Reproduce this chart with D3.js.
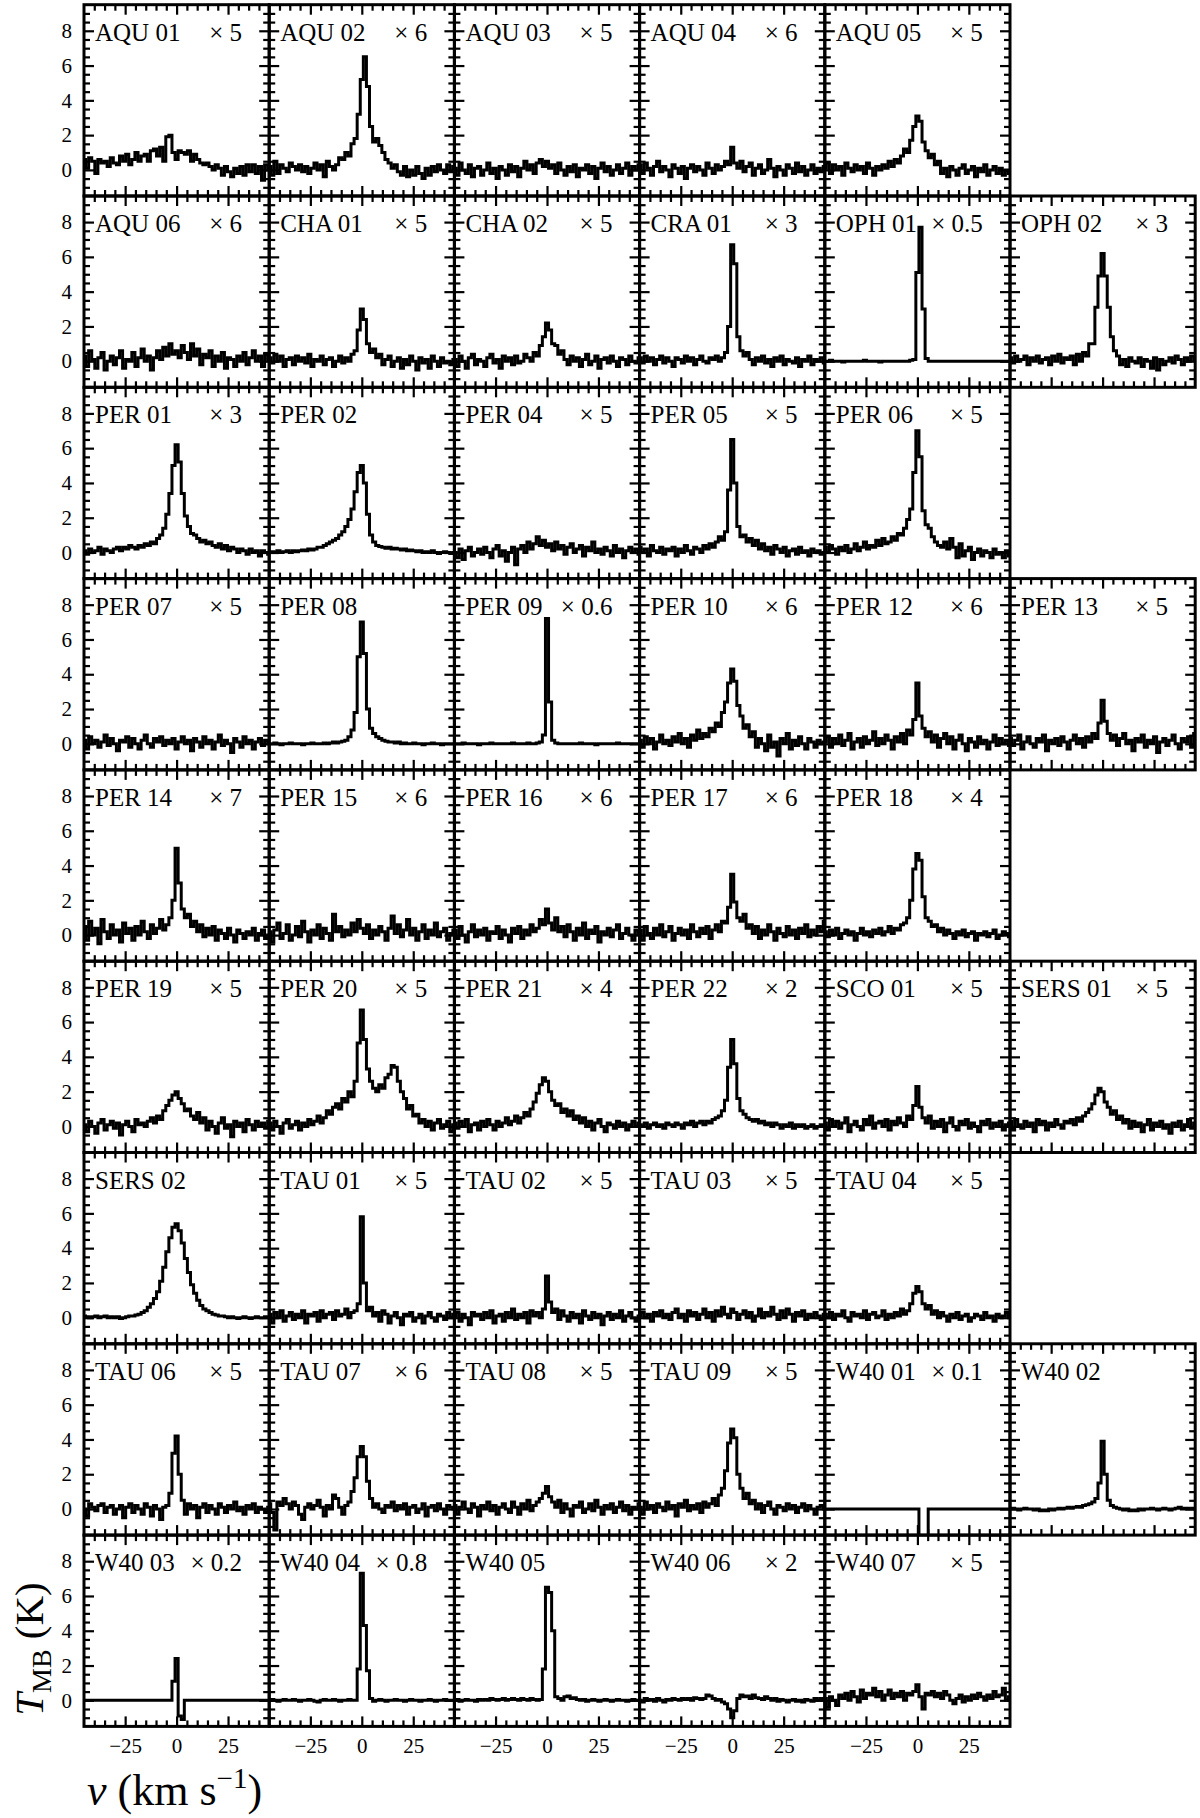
<!DOCTYPE html>
<html>
<head>
<meta charset="utf-8">
<script src="https://cdn.jsdelivr.net/npm/d3@7"></script>
<style>
body { margin: 0; background: #fff; }
svg text { font-family: "Liberation Serif", "Times New Roman", "Tinos", "DejaVu Serif", "Noto Serif", serif !important; fill: #000; }
</style>
</head>
<body>
<div id="chart"></div>
<script>
// channel grid of every spectrum (km/s)
let velStart = -45;
let velStep = 1.5;

let rowSizes = [5, 6, 5, 6, 5, 6, 5, 6, 5];
let names = ['AQU 01', 'AQU 02', 'AQU 03', 'AQU 04', 'AQU 05',
    'AQU 06', 'CHA 01', 'CHA 02', 'CRA 01', 'OPH 01', 'OPH 02',
    'PER 01', 'PER 02', 'PER 04', 'PER 05', 'PER 06',
    'PER 07', 'PER 08', 'PER 09', 'PER 10', 'PER 12', 'PER 13',
    'PER 14', 'PER 15', 'PER 16', 'PER 17', 'PER 18',
    'PER 19', 'PER 20', 'PER 21', 'PER 22', 'SCO 01', 'SERS 01',
    'SERS 02', 'TAU 01', 'TAU 02', 'TAU 03', 'TAU 04',
    'TAU 06', 'TAU 07', 'TAU 08', 'TAU 09', 'W40 01', 'W40 02',
    'W40 03', 'W40 04', 'W40 05', 'W40 06', 'W40 07'];
let factors = ['5', '6', '5', '6', '5',
    '6', '5', '5', '3', '0.5', '3',
    '3', '', '5', '5', '5',
    '5', '', '0.6', '6', '6', '5',
    '7', '6', '6', '6', '4',
    '5', '5', '4', '2', '5', '5',
    '', '5', '5', '5', '5',
    '5', '6', '5', '5', '0.1', '',
    '0.2', '0.8', '', '2', '5'];

let xMajor = [-25, 0, 25];
let xMinor = [-40, -35, -30, -20, -15, -10, -5, 5, 10, 15, 20, 30, 35, 40];
let yMajor = [0, 2, 4, 6, 8];
let yMinor = [-1, -0.5, 0.5, 1, 1.5, 2.5, 3, 3.5, 4.5, 5, 5.5, 6.5, 7, 7.5, 8.5, 9];

// spectra (T_MB in K, already multiplied by the factor), 61 channels each
let aqu01 = [0.6, 0.1, 0.7, 0.5, -0.2, 0.6, 0.4, 0.5, 0.2, 0.7,
    0.4, 0.3, 0.8, 0.5, 0.9, 0.3, 0.6, 1.0, 0.5, 0.8,
    0.9, 0.5, 1.1, 1.2, 0.8, 1.3, 0.5, 1.9, 2.0, 1.0,
    0.6, 1.1, 1.0, 0.9, 1.1, 0.5, 0.9, 0.6, 0.4, 0.3,
    0.4, 0.2, 0.0, 0.3, 0.1, -0.3, 0.2, -0.1, -0.4, 0.1,
    -0.2, 0.2, -0.3, 0.3, -0.1, 0.3, -0.2, 0.2, -0.6, 0.3,
    0.0];
let aqu02 = [0.2, -0.3, 0.5, -0.2, 0.3, 0.1, -0.1, 0.4, 0.2, 0.0,
    0.3, -0.1, 0.2, -0.2, 0.1, 0.4, 0.0, 0.3, -0.4, 0.5,
    0.2, 0.0, 0.3, 0.7, 0.6, 1.0, 0.8, 1.5, 1.8, 3.2,
    5.2, 6.5, 4.8, 2.5, 1.6, 1.8, 1.4, 1.0, 0.6, 0.4,
    0.1, 0.3, -0.1, -0.3, 0.2, -0.4, 0.0, -0.3, 0.2, -0.2,
    -0.5, 0.1, -0.3, 0.2, -0.1, 0.3, 0.0, -0.2, 0.3, -0.1,
    0.2];
let aqu03 = [0.1, -0.3, 0.4, 0.0, -0.2, 0.3, -0.4, 0.1, 0.2, -0.3,
    0.0, 0.4, -0.2, 0.1, -0.5, 0.2, 0.0, -0.3, 0.3, -0.1,
    0.2, -0.4, 0.1, 0.5, 0.0, 0.3, -0.2, 0.4, 0.6, 0.2,
    0.5, 0.1, 0.3, -0.2, 0.4, 0.0, -0.3, 0.2, -0.1, 0.3,
    -0.4, 0.1, 0.0, 0.3, -0.2, 0.2, -0.5, 0.1, 0.4, -0.1,
    0.2, -0.3, 0.0, 0.3, -0.2, 0.1, 0.4, -0.3, 0.2, 0.0,
    0.3];
let aqu04 = [0.3, -0.2, 0.4, 0.1, -0.3, 0.2, 0.5, -0.1, 0.2, 0.0,
    -0.4, 0.3, 0.1, -0.2, 0.2, -0.5, 0.1, 0.3, -0.1, 0.2,
    0.0, -0.3, 0.4, 0.1, -0.2, 0.3, 0.0, 0.2, 0.5, 0.3,
    1.3, 0.4, 0.1, 0.5, -0.1, 0.2, 0.4, -0.3, 0.1, 0.3,
    -0.2, 0.0, 0.6, 0.1, -0.4, 0.2, 0.0, -0.3, 0.3, 0.1,
    -0.2, 0.4, -0.1, 0.2, -0.3, 0.0, 0.3, -0.2, 0.1, -0.1,
    0.2];
let aqu05 = [0.1, 0.4, -0.2, 0.3, 0.0, 0.2, -0.3, 0.4, 0.1, -0.1,
    0.3, 0.0, 0.2, -0.2, 0.4, 0.1, -0.3, 0.2, 0.0, 0.3,
    0.1, 0.5, 0.2, 0.6, 0.4, 0.8, 1.2, 1.0, 1.7, 2.5,
    3.1, 2.8, 1.6, 1.1, 0.7, 0.9, 0.3, 0.5, -0.2, 0.1,
    -0.4, 0.2, 0.0, -0.3, 0.1, 0.3, -0.2, 0.0, 0.2, -0.4,
    0.1, -0.1, 0.3, -0.3, 0.0, 0.2, -0.2, 0.1, -0.3, 0.0,
    -0.2];
let aqu06 = [0.3, -0.3, 0.6, 0.1, -0.4, 0.2, 0.5, -0.5, 0.0, 0.3,
    -0.2, 0.2, 0.6, -0.4, 0.1, 0.0, 0.5, -0.3, 0.2, 0.7,
    0.0, 0.3, -0.5, 0.2, 0.6, 0.1, 0.8, 0.3, 1.0, 0.4,
    0.6, 0.2, 0.9, 0.5, 0.1, 1.0, 0.3, 0.7, -0.2, 0.4,
    0.2, 0.6, -0.3, 0.3, 0.0, 0.5, -0.4, 0.2, 0.1, -0.3,
    0.3, 0.0, 0.5, -0.2, 0.2, 0.6, 0.0, 0.3, -0.3, 0.4,
    0.1];
let cha01 = [0.2, -0.1, 0.4, 0.0, 0.3, -0.3, 0.1, 0.2, -0.2, 0.3,
    0.0, 0.2, -0.1, 0.4, -0.3, 0.1, 0.0, 0.3, -0.2, 0.1,
    0.2, -0.3, 0.0, 0.3, -0.1, 0.2, 0.0, 0.4, 0.6, 1.8,
    3.0, 2.4, 1.0, 0.5, 0.7, 0.2, 0.4, -0.2, 0.1, 0.3,
    -0.3, 0.0, 0.2, -0.4, 0.1, -0.2, 0.3, 0.0, -0.5, 0.2,
    -0.1, 0.1, -0.4, 0.3, 0.0, -0.3, 0.2, -0.1, 0.0, -0.2,
    0.1];
let cha02 = [0.1, -0.3, 0.3, 0.0, -0.4, 0.2, 0.4, -0.2, 0.1, 0.0,
    -0.3, 0.2, 0.4, -0.1, 0.1, -0.4, 0.3, 0.0, 0.2, -0.2,
    0.3, -0.1, 0.0, 0.4, 0.2, 0.0, 0.5, 0.3, 0.9, 1.4,
    2.2, 1.8, 1.0, 0.9, 0.4, 0.6, 0.1, -0.2, 0.3, 0.0,
    0.2, -0.3, 0.1, 0.4, -0.2, 0.0, 0.3, -0.4, 0.1, 0.2,
    -0.1, 0.3, 0.0, -0.3, 0.2, 0.1, -0.2, 0.3, 0.0, -0.1,
    0.2];
let cra01 = [0.2, -0.1, 0.3, 0.0, 0.2, -0.2, 0.1, 0.3, -0.1, 0.2,
    0.0, -0.3, 0.2, 0.1, -0.1, 0.3, 0.0, 0.2, -0.2, 0.1,
    0.3, 0.0, -0.1, 0.2, 0.1, 0.3, 0.0, 0.2, 0.5, 2.0,
    6.7, 5.6, 1.4, 0.6, 0.3, 0.5, 0.1, -0.2, 0.2, 0.0,
    0.3, -0.1, 0.1, -0.3, 0.2, 0.0, 0.3, -0.2, 0.1, 0.0,
    -0.1, 0.2, -0.3, 0.1, 0.0, 0.3, -0.2, 0.1, 0.0, 0.2,
    -0.1];
let oph01 = [0.0, 0.0, 0.05, 0.0, 0.0, 0.0, -0.05, 0.0, 0.0, 0.0,
    0.0, 0.0, 0.0, 0.05, 0.0, 0.0, 0.0, 0.0, -0.05, 0.0,
    0.0, 0.0, 0.0, 0.0, 0.0, 0.0, 0.0, 0.0, 0.05, 0.1,
    5.1, 7.7, 3.0, 0.15, 0.0, 0.0, 0.0, 0.0, 0.0, 0.0,
    0.0, 0.0, 0.0, 0.0, 0.0, 0.0, 0.0, 0.0, 0.0, 0.0,
    0.0, 0.0, 0.0, 0.0, 0.0, 0.0, 0.0, 0.0, 0.0, 0.0,
    0.0];
let oph02 = [0.2, -0.1, 0.3, 0.0, 0.1, 0.3, -0.2, 0.2, 0.0, 0.3,
    -0.1, 0.1, 0.2, -0.2, 0.3, 0.0, 0.4, -0.1, 0.2, 0.1,
    0.3, -0.2, 0.4, 0.0, 0.5, 0.3, 1.0, 1.0, 3.1, 4.9,
    6.2, 4.9, 3.1, 1.4, 0.6, 0.3, -0.2, 0.1, -0.3, 0.2,
    0.0, -0.1, 0.2, -0.3, 0.1, 0.0, -0.4, 0.2, -0.5, 0.1,
    -0.2, 0.0, 0.2, -0.1, 0.3, 0.1, -0.2, 0.2, 0.0, 0.3,
    0.1];
let per01 = [0.1, -0.1, 0.2, 0.0, 0.1, 0.3, -0.1, 0.2, 0.1, 0.0,
    0.2, 0.3, 0.1, 0.3, 0.2, 0.4, 0.3, 0.2, 0.4, 0.3,
    0.5, 0.4, 0.6, 0.5, 0.8, 1.0, 1.4, 2.2, 3.4, 5.0,
    6.2, 5.2, 3.4, 2.1, 1.5, 1.1, 1.0, 0.8, 0.6, 0.7,
    0.5, 0.6, 0.4, 0.3, 0.5, 0.2, 0.4, 0.1, 0.3, 0.2,
    0.0, 0.2, 0.1, -0.1, 0.2, 0.0, 0.1, -0.2, 0.1, 0.0,
    -0.1];
let per02 = [0.0, 0.05, 0.0, 0.1, 0.0, 0.05, 0.1, 0.0, 0.1, 0.05,
    0.1, 0.15, 0.1, 0.2, 0.15, 0.2, 0.3, 0.3, 0.4, 0.5,
    0.6, 0.7, 0.8, 1.0, 1.2, 1.5, 1.9, 2.5, 3.5, 4.6,
    5.0, 4.0, 2.2, 1.0, 0.6, 0.4, 0.35, 0.3, 0.25, 0.3,
    0.2, 0.25, 0.2, 0.15, 0.2, 0.1, 0.15, 0.1, 0.05, 0.1,
    0.0, 0.05, 0.0, 0.1, 0.0, -0.05, 0.0, 0.05, 0.0, -0.05,
    0.0];
let per04 = [0.0, -0.3, 0.2, -0.4, 0.1, 0.3, -0.2, 0.0, 0.2, -0.1,
    0.3, 0.0, -0.3, 0.2, 0.4, -0.2, 0.1, -0.5, 0.0, 0.3,
    -0.7, 0.2, 0.4, 0.0, 0.6, 0.2, 0.5, 0.9, 0.4, 0.7,
    0.3, 0.5, 0.1, 0.6, 0.2, 0.4, -0.1, 0.3, 0.5, 0.0,
    0.2, 0.4, -0.2, 0.3, 0.1, 0.6, 0.0, 0.2, -0.1, 0.3,
    0.1, -0.2, 0.4, 0.0, 0.2, -0.3, 0.1, 0.3, 0.0, 0.2,
    -0.1];
let per05 = [0.3, 0.0, 0.2, -0.2, 0.4, 0.1, 0.0, 0.3, -0.1, 0.2,
    0.1, 0.3, -0.2, 0.2, 0.0, 0.4, 0.1, -0.1, 0.3, 0.2,
    0.0, 0.4, 0.2, 0.5, 0.3, 0.6, 0.9, 0.7, 1.2, 3.6,
    6.5, 4.0, 1.5, 0.9, 1.0, 0.6, 0.8, 0.4, 0.7, 0.2,
    0.5, 0.1, 0.3, -0.1, 0.4, 0.2, 0.0, 0.3, -0.2, 0.1,
    0.2, -0.1, 0.3, 0.0, 0.1, -0.2, 0.2, 0.0, 0.1, -0.1,
    0.0];
let per06 = [0.3, 0.0, 0.4, 0.2, -0.1, 0.3, 0.1, 0.4, 0.0, 0.2,
    0.5, 0.1, 0.3, 0.6, 0.2, 0.4, 0.3, 0.7, 0.4, 0.8,
    0.5, 0.6, 0.9, 0.7, 1.1, 1.0, 1.4, 1.9, 2.5, 4.6,
    7.0, 5.5, 2.4, 1.6, 1.4, 0.9, 0.6, 0.4, 0.3, 0.6,
    0.2, 0.8, 0.3, -0.3, 0.5, -0.2, 0.1, 0.3, -0.4, 0.0,
    0.2, -0.2, 0.1, 0.0, -0.3, 0.2, -0.1, 0.0, -0.3, 0.1,
    -0.2];
let per07 = [0.2, -0.3, 0.4, 0.0, 0.2, -0.2, 0.1, 0.5, -0.1, 0.3,
    0.0, -0.4, 0.2, 0.1, 0.4, -0.2, 0.3, 0.0, -0.3, 0.2,
    0.5, 0.0, -0.2, 0.3, 0.1, 0.4, -0.1, 0.2, 0.0, 0.3,
    -0.3, 0.1, 0.4, 0.0, 0.2, -0.4, 0.3, 0.1, -0.2, 0.4,
    0.0, 0.2, -0.3, 0.1, 0.5, -0.1, 0.2, 0.0, -0.5, 0.3,
    0.1, -0.2, 0.4, 0.0, 0.2, -0.3, 0.1, 0.3, -0.1, 0.2,
    0.0];
let per08 = [0.0, 0.0, 0.05, 0.0, -0.05, 0.0, 0.0, 0.05, 0.0, 0.0,
    0.0, -0.05, 0.0, 0.0, 0.05, 0.0, 0.0, 0.0, 0.05, 0.0,
    0.05, 0.1, 0.05, 0.1, 0.15, 0.2, 0.4, 0.8, 1.8, 5.0,
    7.0, 5.2, 2.0, 0.9, 0.6, 0.4, 0.3, 0.2, 0.15, 0.1,
    0.1, 0.05, 0.1, 0.0, 0.05, 0.0, 0.0, 0.05, 0.0, 0.0,
    -0.05, 0.0, 0.0, 0.05, 0.0, 0.0, -0.05, 0.0, 0.0, 0.0,
    0.0];
let per09 = [0.0, 0.0, 0.0, 0.05, 0.0, 0.0, 0.0, 0.0, -0.05, 0.0,
    0.0, 0.0, 0.05, 0.0, 0.0, 0.0, 0.0, 0.0, 0.0, 0.05,
    0.0, 0.0, 0.0, 0.0, 0.05, 0.0, 0.0, 0.05, 0.1, 0.5,
    7.2, 2.4, 0.2, 0.05, 0.0, 0.0, 0.0, 0.0, 0.0, 0.0,
    0.0, 0.05, 0.0, 0.0, 0.0, 0.0, -0.05, 0.0, 0.0, 0.0,
    0.0, 0.0, 0.0, 0.05, 0.0, 0.0, 0.0, 0.0, 0.0, 0.0,
    0.0];
let per10 = [0.2, -0.2, 0.4, 0.0, 0.3, -0.3, 0.1, 0.5, 0.0, 0.2,
    -0.1, 0.4, 0.1, 0.6, 0.0, 0.3, -0.2, 0.5, 0.2, 0.8,
    0.3, 0.6, 0.4, 0.9, 0.7, 1.2, 1.0, 1.8, 2.4, 3.5,
    4.3, 3.6, 2.2, 1.6, 0.9, 1.1, 0.4, 0.7, -0.2, 0.3,
    0.0, -0.4, 0.5, -0.2, 0.1, -0.7, 0.3, 0.0, 0.6, -0.3,
    0.2, -0.1, 0.4, 0.0, -0.3, 0.3, 0.1, -0.2, 0.2, 0.0,
    0.1];
let per12 = [0.1, 0.4, -0.2, 0.3, 0.0, 0.5, -0.1, 0.2, 0.6, -0.3,
    0.1, 0.3, -0.2, 0.4, 0.0, 0.2, 0.7, -0.1, 0.3, 0.0,
    0.5, 0.2, -0.3, 0.4, 0.1, 0.6, 0.0, 0.8, 0.5, 1.4,
    3.5, 1.6, 0.9, 0.4, 0.7, 0.1, 0.5, -0.2, 0.3, 0.6,
    0.0, 0.4, -0.3, 0.2, 0.5, 0.0, -0.4, 0.3, 0.1, -0.2,
    0.4, 0.0, 0.2, -0.3, 0.1, 0.5, -0.1, 0.3, 0.0, 0.2,
    -0.1];
let per13 = [0.3, -0.1, 0.2, 0.5, -0.3, 0.1, 0.4, 0.0, -0.2, 0.3,
    0.1, 0.5, -0.4, 0.2, 0.0, 0.3, -0.1, 0.4, 0.1, -0.3,
    0.2, 0.5, 0.0, 0.3, -0.2, 0.4, 0.1, 0.6, 0.3, 1.2,
    2.5, 1.3, 0.6, 0.2, 0.5, -0.1, 0.3, 0.6, 0.0, 0.2,
    -0.4, 0.3, 0.1, 0.5, -0.2, 0.2, 0.0, 0.4, -0.5, 0.1,
    0.3, -0.1, 0.2, 0.5, 0.0, -0.3, 0.3, 0.1, 0.4, -0.2,
    0.6];
let per14 = [0.5, -0.3, 0.8, 0.0, 0.4, -0.5, 0.9, 0.2, -0.2, 0.6,
    0.0, 0.3, -0.4, 0.7, 0.1, 0.4, -0.3, 0.5, 0.0, 0.8,
    0.2, -0.2, 0.6, 0.1, 0.4, 0.9, 0.3, 0.6, 1.0, 2.0,
    5.0, 3.0, 1.5, 1.0, 1.2, 0.5, 0.8, 0.2, 0.6, -0.1,
    0.4, 0.0, 0.5, -0.3, 0.3, 0.1, -0.2, 0.4, 0.0, -0.4,
    0.3, 0.1, -0.2, 0.2, 0.0, 0.4, -0.3, 0.1, 0.3, -0.2,
    0.0];
let per15 = [0.2, -0.4, 0.3, 0.7, -0.2, 0.1, 0.6, -0.3, 0.0, 0.5,
    -0.1, 0.8, 0.2, -0.4, 0.3, 0.0, 0.6, -0.2, 0.4, 0.1,
    -0.3, 1.2, 0.2, 0.5, -0.1, 0.3, 0.0, 0.7, 0.2, 0.9,
    0.4, 0.1, 0.6, -0.2, 0.3, 0.0, 0.5, 0.2, -0.3, 0.4,
    1.1, 0.1, 0.6, -0.1, 0.3, 0.9, 0.0, 0.4, -0.3, 0.2,
    0.6, -0.2, 0.3, 0.0, 0.7, -0.1, 0.2, 0.4, -0.3, 0.1,
    0.3];
let per16 = [0.3, -0.2, 0.5, 0.0, -0.4, 0.2, 0.6, -0.1, 0.3, 0.0,
    0.4, -0.3, 0.2, 0.1, 0.5, -0.2, 0.3, 0.0, -0.4, 0.4,
    0.1, 0.5, -0.2, 0.3, 0.0, 0.6, 0.2, 0.4, 0.9, 0.6,
    1.5, 0.7, 0.3, 1.0, 0.2, 0.5, -0.1, 0.6, 0.2, -0.3,
    0.4, 0.0, 0.7, -0.2, 0.3, 0.1, 0.5, -0.4, 0.2, 0.0,
    0.4, -0.1, 0.3, 0.6, -0.2, 0.1, 0.4, 0.0, -0.3, 0.3,
    0.1];
let per17 = [0.3, -0.3, 0.5, 0.1, -0.2, 0.4, 0.0, 0.6, -0.1, 0.2,
    0.5, -0.3, 0.1, 0.4, 0.0, 0.3, -0.2, 0.6, 0.2, -0.1,
    0.4, 0.1, 0.5, -0.2, 0.3, 0.6, 0.2, 0.8, 0.7, 1.6,
    3.5, 1.9, 1.0, 0.8, 1.2, 0.4, 0.6, 0.1, 0.5, -0.2,
    0.3, 0.0, 0.6, 0.2, -0.3, 0.4, 0.1, -0.1, 0.5, 0.0,
    0.3, -0.2, 0.4, 0.1, 0.6, -0.1, 0.3, 0.0, 0.5, 0.2,
    0.8];
let per18 = [0.2, -0.1, 0.3, 0.0, 0.4, -0.2, 0.1, 0.3, 0.0, 0.2,
    -0.3, 0.1, 0.4, 0.0, 0.2, -0.1, 0.3, 0.1, 0.4, 0.0,
    0.2, 0.5, 0.1, 0.4, 0.3, 0.6, 0.7, 1.0, 2.0, 3.8,
    4.7, 4.3, 2.2, 1.0, 0.8, 0.5, 0.6, 0.2, 0.4, 0.0,
    0.3, 0.1, -0.2, 0.2, 0.0, 0.3, -0.1, 0.1, 0.2, -0.3,
    0.1, 0.0, 0.2, -0.1, 0.1, 0.3, -0.2, 0.0, 0.2, 0.1,
    -0.1];
let per19 = [0.1, -0.3, 0.3, 0.0, -0.4, 0.2, 0.4, -0.2, 0.1, 0.3,
    -0.1, 0.2, -0.5, 0.1, 0.3, 0.0, -0.3, 0.4, 0.1, 0.2,
    0.0, 0.3, 0.5, 0.2, 0.6, 0.4, 0.9, 1.2, 1.5, 1.8,
    2.0, 1.6, 1.3, 0.9, 1.0, 0.6, 0.4, 0.8, 0.2, 0.5,
    -0.2, 0.3, 0.0, -0.4, 0.2, 0.5, -0.1, 0.1, -0.6, 0.3,
    0.0, 0.2, -0.3, 0.4, 0.1, -0.2, 0.3, 0.0, 0.2, -0.1,
    0.3];
let per20 = [0.2, -0.2, 0.3, 0.0, -0.4, 0.2, 0.4, -0.1, 0.1, 0.3,
    -0.2, 0.2, 0.0, 0.4, 0.1, 0.3, 0.6, 0.2, 0.5, 0.9,
    0.7, 1.1, 1.3, 1.0, 1.6, 1.4, 2.0, 1.7, 2.6, 4.8,
    6.7, 5.0, 3.3, 2.6, 2.2, 2.0, 2.4, 2.2, 2.8, 3.0,
    3.5, 3.4, 2.6, 2.0, 1.6, 1.0, 1.2, 0.6, 0.7, 0.2,
    0.4, 0.0, 0.3, -0.2, 0.2, 0.4, -0.1, 0.1, 0.3, -0.3,
    0.1];
let per21 = [0.2, -0.1, 0.3, 0.0, 0.4, -0.3, 0.1, 0.2, -0.2, 0.3,
    0.0, 0.4, 0.1, -0.2, 0.3, 0.0, 0.2, 0.5, 0.1, 0.3,
    0.6, 0.2, 0.5, 0.8, 0.6, 1.0, 1.4, 1.9, 2.4, 2.8,
    2.6, 2.0, 1.5, 1.2, 1.3, 0.8, 1.0, 0.6, 0.9, 0.4,
    0.6, 0.2, 0.5, 0.0, 0.3, -0.2, 0.2, 0.4, 0.0, -0.3,
    0.2, 0.1, -0.1, 0.3, 0.0, 0.2, -0.2, 0.1, 0.3, 0.0,
    0.2];
let per22 = [0.1, 0.0, 0.2, -0.1, 0.1, 0.2, 0.0, 0.1, -0.1, 0.2,
    0.1, 0.0, 0.2, 0.1, -0.1, 0.2, 0.1, 0.3, 0.0, 0.2,
    0.3, 0.1, 0.3, 0.2, 0.4, 0.5, 0.6, 0.9, 1.5, 3.4,
    5.0, 3.6, 1.6, 0.9, 0.7, 0.5, 0.4, 0.3, 0.4, 0.2,
    0.3, 0.1, 0.2, 0.0, 0.2, 0.1, -0.1, 0.1, 0.0, 0.2,
    -0.1, 0.1, 0.0, 0.1, -0.1, 0.0, 0.1, -0.1, 0.0, 0.1,
    0.0];
let sco01 = [0.2, -0.2, 0.4, 0.0, 0.3, -0.1, 0.2, 0.5, -0.3, 0.1,
    0.3, 0.0, -0.2, 0.4, 0.1, 0.6, -0.1, 0.2, 0.3, 0.0,
    0.4, -0.2, 0.3, 0.1, 0.5, 0.2, 0.0, 0.6, 0.4, 1.2,
    2.3, 1.1, 0.5, 0.2, 0.6, -0.1, 0.3, 0.0, 0.4, -0.3,
    0.2, 0.5, 0.0, -0.2, 0.3, 0.1, 0.4, -0.1, 0.2, 0.0,
    -0.3, 0.3, 0.1, 0.4, -0.1, 0.2, 0.0, 0.3, -0.2, 0.1,
    0.2];
let sers01 = [0.3, -0.2, 0.4, 0.1, -0.1, 0.3, 0.0, 0.2, -0.3, 0.4,
    0.1, 0.3, -0.2, 0.2, 0.0, 0.4, 0.1, -0.1, 0.3, 0.2,
    0.4, 0.1, 0.5, 0.3, 0.6, 0.8, 1.0, 1.3, 1.8, 2.2,
    2.0, 1.4, 1.1, 0.7, 0.9, 0.4, 0.6, 0.2, 0.4, -0.1,
    0.3, 0.0, 0.2, -0.3, 0.1, 0.4, -0.2, 0.2, 0.0, 0.3,
    -0.1, 0.1, -0.4, 0.2, 0.0, 0.3, -0.2, 0.1, 0.4, -0.1,
    0.2];
let sers02 = [0.1, 0.05, 0.0, 0.05, 0.1, 0.0, 0.05, 0.1, 0.0, 0.05,
    0.0, 0.05, -0.05, 0.0, 0.05, 0.1, 0.1, 0.15, 0.2, 0.3,
    0.4, 0.6, 0.8, 1.1, 1.5, 2.1, 2.9, 3.8, 4.6, 5.2,
    5.4, 5.0, 4.3, 3.4, 2.6, 1.9, 1.4, 1.0, 0.7, 0.5,
    0.4, 0.3, 0.2, 0.15, 0.1, 0.1, 0.05, 0.0, 0.05, 0.0,
    -0.05, 0.0, 0.05, 0.0, -0.05, 0.0, 0.05, 0.0, 0.0, 0.05,
    0.0];
let tau01 = [0.2, -0.3, 0.3, 0.0, 0.4, -0.2, 0.1, 0.3, -0.1, 0.2,
    0.0, 0.4, -0.3, 0.2, 0.1, 0.3, -0.2, 0.4, 0.0, 0.2,
    0.3, -0.1, 0.4, 0.1, 0.2, 0.5, 0.0, 0.3, 0.4, 0.8,
    5.8, 2.0, 0.4, 0.6, 0.1, 0.3, -0.2, 0.4, 0.2, -0.3,
    0.1, 0.3, 0.0, -0.4, 0.2, 0.1, 0.3, -0.2, 0.0, 0.2,
    -0.3, 0.1, 0.3, 0.0, -0.2, 0.2, 0.1, -0.1, 0.3, 0.0,
    0.2];
let tau02 = [0.1, 0.3, -0.2, 0.2, 0.0, -0.4, 0.3, 0.1, 0.2, -0.1,
    0.3, 0.0, 0.4, -0.3, 0.1, 0.2, -0.2, 0.3, 0.0, 0.5,
    -0.1, 0.2, 0.0, 0.3, -0.3, 0.4, 0.1, 0.3, 0.0, 0.5,
    2.4, 0.9, 0.3, 0.5, -0.1, 0.4, 0.1, -0.2, 0.3, 0.0,
    0.2, -0.3, 0.4, 0.1, -0.1, 0.3, 0.0, 0.2, -0.4, 0.1,
    0.3, -0.1, 0.2, 0.0, 0.4, -0.2, 0.1, 0.3, 0.0, -0.2,
    0.1];
let tau03 = [0.1, 0.3, 0.0, 0.2, -0.2, 0.3, 0.1, 0.4, 0.0, 0.2,
    -0.1, 0.3, 0.5, 0.0, 0.2, -0.2, 0.4, 0.1, 0.3, -0.1,
    0.2, 0.5, 0.0, 0.3, -0.2, 0.4, 0.1, 0.6, 0.2, 0.0,
    0.5, 0.3, -0.1, 0.2, 0.4, 0.0, 0.3, -0.2, 0.1, 0.5,
    0.0, 0.3, 0.1, 0.6, 0.2, -0.1, 0.4, 0.0, 0.5, 0.2,
    -0.2, 0.3, 0.1, 0.4, -0.1, 0.2, 0.0, 0.3, 0.1, -0.1,
    0.2];
let tau04 = [0.2, 0.0, 0.3, -0.1, 0.2, 0.1, 0.4, 0.0, -0.2, 0.3,
    0.1, 0.2, 0.0, 0.4, -0.1, 0.2, 0.3, 0.0, 0.1, 0.4,
    -0.1, 0.2, 0.0, 0.3, 0.1, 0.5, 0.2, 0.4, 0.8, 1.4,
    1.8, 1.5, 0.8, 0.5, 0.7, 0.2, 0.4, 0.0, 0.3, 0.1,
    -0.2, 0.2, 0.0, 0.3, -0.1, 0.1, 0.2, -0.2, 0.0, 0.2,
    0.1, -0.1, 0.3, 0.0, 0.1, -0.2, 0.2, 0.0, 0.1, 0.3,
    0.0];
let tau06 = [0.0, -0.4, 0.3, 0.1, -0.1, 0.2, 0.3, -0.2, 0.1, 0.2,
    -0.3, 0.0, 0.2, -0.5, 0.1, 0.3, -0.2, 0.2, 0.0, -0.3,
    0.3, 0.1, -0.4, 0.2, 0.0, -0.6, 0.1, 0.2, 0.9, 3.2,
    4.2, 2.0, 0.5, -0.3, 0.3, 0.0, 0.2, -0.5, 0.1, 0.3,
    -0.2, 0.2, 0.0, -0.3, 0.3, 0.1, -0.2, 0.2, 0.0, 0.4,
    -0.1, 0.1, -0.3, 0.2, 0.0, 0.3, -0.2, 0.1, 0.0, -0.2,
    0.1];
let tau07 = [0.3, -0.2, -1.2, 0.4, 0.2, 0.6, 0.3, 0.0, 0.4, 0.2,
    -0.3, -0.6, 0.1, 0.3, 0.0, 0.2, 0.5, 0.1, -0.4, 0.2,
    0.0, 0.8, 0.6, 0.1, -0.3, 0.2, 0.4, 1.0, 1.8, 3.0,
    3.6, 3.0, 1.6, 0.6, 0.1, 0.3, 0.0, -0.2, 0.2, 0.1,
    0.4, -0.1, 0.2, 0.0, 0.3, -0.3, 0.1, 0.2, -0.2, 0.0,
    0.3, -0.4, 0.1, 0.2, -0.1, 0.3, 0.0, -0.3, 0.2, 0.1,
    0.0];
let tau08 = [0.2, -0.3, 0.1, 0.4, 0.0, -0.2, 0.3, 0.1, -0.4, 0.2,
    0.0, 0.4, -0.1, 0.2, -0.3, 0.1, 0.3, 0.0, -0.2, 0.4,
    0.1, -0.3, 0.3, 0.0, 0.5, -0.1, 0.2, 0.4, 0.6, 0.9,
    1.3, 0.7, 0.4, 0.1, 0.5, -0.2, 0.3, 0.0, -0.4, 0.2,
    0.1, 0.4, -0.2, 0.0, 0.3, -0.1, 0.5, 0.1, -0.3, 0.2,
    0.0, 0.3, -0.2, 0.1, 0.4, -0.1, 0.2, -0.3, 0.1, 0.0,
    0.3];
let tau09 = [0.1, -0.3, 0.4, 0.0, 0.2, -0.2, 0.3, 0.1, -0.1, 0.4,
    0.0, 0.2, -0.4, 0.3, 0.1, 0.5, -0.1, 0.2, 0.0, 0.3,
    -0.2, 0.4, 0.1, 0.3, 0.6, 0.2, 0.8, 1.2, 2.2, 3.8,
    4.6, 4.1, 2.0, 1.2, 0.6, 0.9, 0.3, 0.5, 0.0, 0.3,
    -0.2, 0.2, 0.4, 0.0, -0.3, 0.2, 0.1, -0.1, 0.3, 0.0,
    0.2, -0.2, 0.1, 0.3, -0.1, 0.2, 0.0, -0.3, 0.1, 0.2,
    0.0];
let w4001 = [0.0, 0.0, 0.0, 0.0, 0.0, 0.0, 0.0, 0.0, 0.0, 0.0,
    0.0, 0.0, 0.0, 0.0, 0.0, 0.0, 0.0, 0.0, 0.0, 0.0,
    0.0, 0.0, 0.0, 0.0, 0.0, 0.0, 0.0, 0.0, 0.0, 0.0,
    0.0, -3.0, -3.0, -3.0, 0.0, 0.0, 0.0, 0.0, 0.0, 0.0,
    0.0, 0.0, 0.0, 0.0, 0.0, 0.0, 0.0, 0.0, 0.0, 0.0,
    0.0, 0.0, 0.0, 0.0, 0.0, 0.0, 0.0, 0.0, 0.0, 0.0,
    0.0];
let w4002 = [0.0, 0.05, 0.0, -0.05, 0.0, 0.05, 0.0, 0.0, -0.05, 0.0,
    -0.1, -0.05, -0.1, 0.0, -0.05, 0.0, 0.05, 0.0, 0.05, 0.1,
    0.05, 0.1, 0.15, 0.1, 0.2, 0.25, 0.3, 0.4, 0.6, 1.5,
    3.9, 2.0, 0.5, 0.2, 0.1, 0.05, 0.0, -0.05, 0.0, -0.1,
    -0.05, -0.1, 0.0, -0.05, 0.0, 0.0, 0.05, 0.0, -0.05, 0.0,
    0.05, 0.0, -0.05, 0.0, 0.05, 0.1, 0.0, 0.05, 0.0, 0.05,
    0.0];
let w4003 = [0.0, 0.0, 0.0, 0.0, 0.0, 0.0, 0.0, 0.0, 0.0, 0.0,
    0.0, 0.0, 0.0, 0.0, 0.0, 0.0, 0.0, 0.0, 0.0, 0.0,
    0.0, 0.0, 0.0, 0.0, 0.0, 0.0, 0.0, 0.0, 0.0, 1.1,
    2.4, -0.9, -1.1, 0.0, 0.0, 0.0, 0.0, 0.0, 0.0, 0.0,
    0.0, 0.0, 0.0, 0.0, 0.0, 0.0, 0.0, 0.0, 0.0, 0.0,
    0.0, 0.0, 0.0, 0.0, 0.0, 0.0, 0.0, 0.0, 0.0, 0.0,
    0.0];
let w4004 = [0.0, 0.05, 0.0, -0.05, 0.0, 0.05, 0.0, 0.0, 0.05, 0.0,
    -0.05, 0.0, 0.0, 0.05, 0.0, -0.05, -0.1, 0.0, 0.05, 0.0,
    0.0, 0.05, 0.0, -0.05, 0.0, 0.0, 0.05, 0.0, 0.0, 1.8,
    7.3, 4.3, 1.7, 0.1, -0.05, 0.0, 0.05, 0.0, -0.05, 0.0,
    0.0, 0.05, 0.0, 0.0, -0.05, 0.0, 0.05, 0.0, 0.0, -0.05,
    0.0, 0.0, 0.05, 0.0, -0.05, 0.0, 0.0, 0.05, 0.0, 0.0,
    0.0];
let w4005 = [0.0, 0.05, -0.05, 0.0, 0.05, 0.0, 0.0, -0.05, 0.05, 0.0,
    0.05, 0.0, 0.1, 0.05, 0.0, 0.05, 0.1, 0.0, 0.05, 0.1,
    0.05, 0.0, 0.1, 0.05, 0.0, 0.1, 0.05, 0.0, 0.05, 1.8,
    6.5, 6.2, 4.0, 0.2, 0.1, 0.0, 0.2, 0.25, 0.1, 0.15,
    0.05, 0.0, 0.05, -0.05, 0.0, 0.05, 0.0, -0.05, 0.0, 0.05,
    0.0, -0.05, 0.0, 0.05, 0.0, 0.0, -0.05, 0.0, 0.05, 0.0,
    0.0];
let w4006 = [0.0, -0.1, 0.1, 0.0, 0.05, -0.05, 0.1, 0.0, -0.1, 0.05,
    0.0, 0.1, 0.05, 0.0, 0.1, 0.05, 0.1, 0.0, 0.15, 0.1,
    0.05, 0.1, 0.3, 0.25, 0.1, 0.0, 0.05, -0.1, -0.2, -0.5,
    -1.0, -0.6, 0.1, 0.3, 0.2, 0.25, 0.1, 0.3, 0.15, 0.1,
    0.05, 0.2, 0.1, 0.0, 0.1, -0.05, 0.05, 0.0, -0.1, 0.0,
    0.05, -0.05, 0.0, -0.1, 0.05, 0.0, -0.05, 0.1, 0.0, 0.1,
    0.0];
let w4007 = [0.1, -0.4, 0.2, 0.0, -0.3, 0.3, 0.1, 0.4, 0.0, 0.5,
    0.2, -0.1, 0.6, 0.1, 0.4, 0.3, 0.7, 0.2, 0.5, 0.0,
    0.3, 0.6, 0.1, 0.4, 0.2, 0.5, 0.0, 0.4, 0.3, 0.5,
    0.9, 0.2, -0.5, 0.4, 0.3, 0.5, 0.2, 0.4, 0.1, 0.5,
    0.3, 0.0, -0.2, 0.1, 0.3, -0.1, 0.2, 0.0, 0.3, 0.1,
    0.4, 0.2, 0.0, 0.3, 0.1, 0.5, 0.2, 0.3, 0.7, 0.0,
    0.2];

let spectra = [aqu01, aqu02, aqu03, aqu04, aqu05,
    aqu06, cha01, cha02, cra01, oph01, oph02,
    per01, per02, per04, per05, per06,
    per07, per08, per09, per10, per12, per13,
    per14, per15, per16, per17, per18,
    per19, per20, per21, per22, sco01, sers01,
    sers02, tau01, tau02, tau03, tau04,
    tau06, tau07, tau08, tau09, w4001, w4002,
    w4003, w4004, w4005, w4006, w4007];

let fontStack = '"Liberation Serif", "Times New Roman", "Tinos", "DejaVu Serif", "Noto Serif", serif';
let svgWidth = 1200;
let svgHeight = 1818;
let left0 = 84;
let top0 = 4.7;
let colW = 185.2;
let rowH = 191.3;
let majorLen = 10;
let minorLen = 6;

let svg = d3.select('#chart').append('svg')
    .attr('width', svgWidth)
    .attr('height', svgHeight)
    .attr('viewBox', '0 0 ' + svgWidth + ' ' + svgHeight)
    .attr('font-family', fontStack);
svg.append('rect').attr('width', svgWidth).attr('height', svgHeight).attr('fill', '#fff');

let x = d3.scaleLinear().domain([-45, 45]).range([0, colW]);
let y = d3.scaleLinear().domain([-1.5, 9.5]).range([rowH, 0]);

let lineFunction = d3.line()
    .x(function (d, i) { return x(velStart + i * velStep); })
    .y(function (d) { return y(d); })
    .curve(d3.curveStep);

let k = 0;
rowSizes.forEach(function (n, r) {
    for (let c = 0; c < n; c++) {
        drawPanel(k, r, c, r == rowSizes.length - 1);
        k++;
    }
});

function styleAxis(g, size) {
    g.select('.domain').remove();
    g.selectAll('line').attr('stroke', '#000').attr('stroke-width', 2.2);
    g.attr('font-family', fontStack).attr('font-size', size);
}

function drawPanel(k, r, c, lastRow) {
    let group = svg.append('g')
        .attr('transform', 'translate(' + (left0 + c * colW) + ',' + (top0 + r * rowH) + ')');

    group.append('clipPath').attr('id', 'clip' + k)
        .append('rect').attr('width', colW).attr('height', rowH);

    group.append('path')
        .datum(spectra[k])
        .attr('d', lineFunction)
        .attr('clip-path', 'url(#clip' + k + ')')
        .attr('fill', 'none')
        .attr('stroke', '#000')
        .attr('stroke-width', 3)
        .attr('stroke-linejoin', 'miter');

    // inward ticks on all four sides
    let sides = [
        { axis: d3.axisBottom, scale: x, tr: '0,' + rowH, minor: xMinor, major: xMajor, labels: lastRow, pad: 12 },
        { axis: d3.axisTop, scale: x, tr: '0,0', minor: xMinor, major: xMajor, labels: false, pad: 0 },
        { axis: d3.axisLeft, scale: y, tr: '0,0', minor: yMinor, major: yMajor, labels: c == 0, pad: 12 },
        { axis: d3.axisRight, scale: y, tr: colW + ',0', minor: yMinor, major: yMajor, labels: false, pad: 0 }
    ];
    sides.forEach(function (s) {
        group.append('g').attr('transform', 'translate(' + s.tr + ')')
            .call(s.axis(s.scale).tickValues(s.minor).tickSize(-minorLen).tickFormat(''))
            .call(styleAxis, 21);
        group.append('g').attr('transform', 'translate(' + s.tr + ')')
            .call(s.axis(s.scale).tickValues(s.major).tickSize(-majorLen).tickPadding(s.pad)
                .tickFormat(s.labels ? d3.format('d') : ''))
            .call(styleAxis, 21);
    });

    group.append('rect')
        .attr('width', colW).attr('height', rowH)
        .attr('fill', 'none').attr('stroke', '#000').attr('stroke-width', 3);

    group.append('text')
        .attr('x', 11).attr('y', 36)
        .attr('font-size', 25)
        .text(names[k]);
    if (factors[k] != '') {
        group.append('text')
            .attr('x', 158).attr('y', 36)
            .attr('font-size', 25)
            .attr('text-anchor', 'end')
            .text('\u00d7 ' + factors[k]);
    }
}

// axis titles
let yTitle = svg.append('text')
    .attr('transform', 'translate(43,1649) rotate(-90)')
    .attr('text-anchor', 'middle')
    .attr('font-size', 41);
yTitle.append('tspan').attr('font-style', 'italic').text('T');
yTitle.append('tspan').attr('font-size', 28).attr('dy', 8).text('MB');
yTitle.append('tspan').attr('dy', -8).text(' (K)');

let xTitle = svg.append('text')
    .attr('x', 87).attr('y', 1805)
    .attr('font-size', 44);
xTitle.append('tspan').attr('font-style', 'italic').text('v');
xTitle.append('tspan').text(' (km s');
xTitle.append('tspan').attr('font-size', 29).attr('dy', -17).text('\u22121');
xTitle.append('tspan').attr('dy', 17).text(')');
</script>
</body>
</html>
